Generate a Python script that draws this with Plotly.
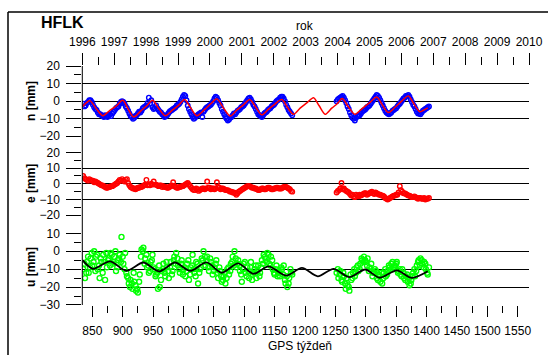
import plotly.graph_objects as go

W, H = 548, 355
def px(x): return x / W
def py(y): return 1 - y / H

# ---------------- data ----------------
station = "HFLK"
year_ticks = list(range(1996, 2011))
week_ticks = list(range(850, 1551, 50))
n_ticks = [-20, -10, 0, 10, 20]
e_ticks = [-20, -10, 0, 10, 20]
u_ticks = [-30, -20, -10, 0, 10]

# north component (blue observations): (start week, step, values)
n_step = 4
n_obs = [
    (835, [-1.5, -2.5, -0.5, 0.5, -2.0, -4.5, -6.5, -7.5, -8.5, -8.0, -9.0, -7.5, -7.0, -5.0,
           -3.5, -1.5, 0.0, -1.5, -4.0, -7.0, -9.0, -9.5, -8.0, -6.0, -5.5, -3.5, -2.5, 2.0,
           0.5, -4.5, -2.5, -5.0, -6.5, -8.0, -8.5, -7.0, -5.5, -4.5, -3.5, -2.0, -0.5, 2.5,
           3.0, -2.5, -6.0, -9.0, -9.5, -8.0, -7.0, -9.0, -5.0, -3.5, -2.5, -1.0, 1.5, 2.0,
           -1.0, -4.5, -7.5, -10.0, -10.5, -9.0, -7.0, -6.5, -5.0, -3.5, -2.5, -0.5, 1.5, 1.0,
           -2.0, -4.5, -7.5, -8.5, -8.0, -6.5, -5.0, -4.0, -2.5, -1.0, 0.5, 2.0, 2.5, 0.0,
           -3.5, -6.0, -8.0]),
    (837, [-3.0, -1.0, 0.5, -0.5, -3.5, -5.0, -7.5, -8.0, -9.0, -8.5, -8.0, -8.5, -6.0, -4.0,
           -3.0, -0.5, -0.5, -3.0, -5.5, -8.5, -10.0, -8.5, -7.0, -6.5, -4.0, -3.0, -1.0, -1.5,
           -3.5, -4.0, -4.0, -6.0, -7.5, -9.0, -8.0, -6.0, -5.0, -4.0, -2.5, -1.5, 1.0, 3.5,
           0.5, -4.5, -7.5, -10.0, -8.5, -7.5, -6.5, -6.0, -4.0, -3.0, -2.0, 0.0, 2.5, 0.5,
           -2.5, -6.0, -9.0, -11.0, -9.5, -8.0, -7.5, -5.5, -4.5, -3.0, -1.5, 0.5, 2.0, -0.5,
           -3.0, -6.0, -8.0, -9.0, -7.0, -6.0, -4.5, -3.0, -2.0, 0.0, 1.0, 2.5, 1.5, -2.0,
           -5.0, -7.0]),
    (1252, [0.0, 1.5, 2.5, 2.0, -1.0, -4.5, -8.0, -10.0, -9.5, -8.5, -7.0, -5.5, -4.5, -3.0,
            -1.5, 0.5, 2.5, 3.0, 0.5, -2.5, -5.5, -7.0, -7.0, -5.5, -4.5, -3.0, -1.5, 0.5,
            2.0, 3.0, 2.5, -0.5, -3.0, -6.0, -7.0, -6.5, -5.0, -4.0, -3.0]),
    (1254, [1.0, 2.0, 3.0, 0.5, -3.0, -6.5, -9.5, -11.0, -8.5, -8.0, -6.0, -5.0, -3.5, -2.5,
            -0.5, 1.5, 3.5, 2.0, -1.0, -4.0, -6.5, -7.5, -6.5, -5.0, -4.0, -2.0, -0.5, 1.5,
            3.0, 3.5, 1.0, -2.0, -4.5, -7.0, -7.5, -5.5, -4.5, -3.5]),
]

# north model (red line)
n_fit_weeks = [834, 840, 846, 856, 867, 878, 890, 900, 909, 918, 930, 940, 949, 959, 970, 982,
               993, 1002, 1012, 1022, 1034, 1045, 1055, 1066, 1077, 1088, 1099, 1109, 1119,
               1129, 1140, 1151, 1162, 1171, 1181, 1192, 1203, 1214, 1223, 1233, 1244, 1253,
               1261, 1271, 1282, 1293, 1306, 1318, 1327, 1337, 1348, 1359, 1370, 1379, 1389,
               1396, 1402]
n_fit_vals = [-3.0, -1.0, 0.3, -4.0, -8.3, -5.5, -2.5, 0.5, -4.5, -9.0, -5.5, -2.5, 0.5, -4.0,
              -8.3, -5.0, -2.0, 1.0, -4.0, -8.3, -5.0, -1.5, 1.3, -4.0, -8.5, -5.0, -2.0, 1.0,
              -3.5, -7.8, -4.5, -1.5, 1.0, -3.5, -7.5, -4.0, -1.0, 2.0, -2.5, -7.5, -4.0, -1.5,
              1.5, -3.0, -7.5, -4.5, -1.0, 2.3, -2.0, -6.5, -3.5, 0.0, 3.0, -1.5, -6.0, -5.0,
              -3.8]

# east component (red observations)
e_step = 4
e_obs = [
    (835, [5.0, 3.0, 2.0, 2.5, 2.0, 1.5, 0.5, -0.5, -1.0, -2.0, -2.5, -2.0, -1.5, -0.5, 0.5,
           2.5, 3.0, 1.5, 3.0, -1.0, -2.5, -3.0, -3.0, -2.5, -2.0, -1.0, 2.5, -0.5, 0.0, 1.5,
           -0.5, -1.5, -1.0, -1.5, -2.0, -2.5, -1.5, 1.0, -2.0, -2.5, -2.0, -1.5, -0.5, 0.5,
           -1.5, -3.5, -4.0, -3.5, -4.0, -3.0, -3.5, 1.5, -2.5, -3.0, -3.5, 1.0, -2.5, -3.0,
           -3.5, -4.0, -4.5, -5.0, -5.5, -7.0, -5.0, -4.0, -3.0, -2.0, -1.5, -2.0, -2.5, -3.0,
           -4.0, -3.5, -3.0, -3.5, -2.5, -3.0, -3.5, -3.0, -2.5, -3.0, -2.5, -2.0, -2.5, -3.5,
           -5.0]),
    (837, [3.5, 2.5, 3.0, 2.0, 1.0, 1.0, 0.0, -1.0, -1.5, -2.5, -2.0, -1.5, -1.0, 0.0, 1.5,
           2.0, 2.0, 2.5, 0.5, -2.0, -3.0, -3.5, -2.5, -2.0, -1.5, -0.5, -1.0, -1.0, -0.5,
           -0.5, -1.0, -1.0, -2.0, -2.0, -2.5, -2.0, -1.0, -1.5, -2.5, -2.0, -1.5, -1.0, 0.0,
           -0.5, -2.5, -4.0, -3.0, -4.5, -3.5, -3.0, -3.0, -2.5, -3.5, -3.0, -3.0, -2.0, -3.5,
           -3.0, -4.0, -4.0, -5.0, -5.5, -6.0, -6.0, -4.5, -3.5, -2.5, -1.5, -1.5, -2.5, -3.0,
           -3.5, -4.0, -3.0, -3.5, -3.0, -2.5, -3.5, -3.0, -2.5, -3.0, -3.0, -2.0, -2.0, -3.0,
           -4.5]),
    (1252, [-5.5, -4.0, 0.5, -3.0, -4.5, -5.5, -7.5, -8.0, -7.0, -8.0, -7.5, -6.5, -6.0, -6.5,
            -5.5, -6.0, -5.5, -6.5, -7.0, -7.5, -9.0, -10.0, -9.0, -8.0, -7.5, -7.0, -1.5,
            -5.0, -6.0, -7.0, -7.5, -8.5, -8.0, -9.0, -9.0, -9.5, -9.0, -9.5, -9.0]),
    (1254, [-4.5, -3.0, -3.5, -4.0, -5.0, -6.5, -7.0, -8.5, -7.5, -7.0, -7.0, -6.0, -7.0, -6.0,
            -5.0, -6.5, -6.0, -7.0, -7.5, -8.0, -9.5, -9.5, -8.5, -7.5, -7.0, -5.5, -4.0,
            -6.0, -6.5, -7.5, -8.0, -8.5, -8.5, -9.5, -9.0, -9.5, -10.0, -9.5]),
]

# up component (green observations)
u_step = 3
u_obs = [
    (835, [-10, -15, -6, -12, -4, -8, 0, -3, -10, -15, -6, -2, -16, -9, -4, -1, -7, -3, -11,
           -5, -2, 8, -7, -1, -14, -18, -16, -21, -17, -22, -23, -13, 1, 2, -4, -9, -12, -6,
           -2, -10, -13, -21, -20, -11, -7, -14, -9, -15, -6, -11, -3, -1, -8, -12, -5, -10,
           -14, -7, -16, -9, -2, -12, -6, -18, -10, -4, 0, -8, -3, -11, -6, -13, -9, -5, -15,
           -11, -17, -14, -18, -10, -13, -7, -3, 0, -9, -5, -11, -17, -7, -12, -9, -15, -6,
           -13, -10, -15, -8, -12, -5, -2, -4, -1, -7, -3, -10, -13, -8, -12, -14, -10, -8,
           -18, -20, -15, -12]),
    (837, [-7, -12, -3, -9, -1, -6, -11, -2, -8, -4, -12, -6, -1, -5, -8, -2, -6, 0, -9, -4,
           -6, -3, -10, -12, -15, -20, -18, -12, -19, -21, -17, -3, 0, -7, -2, -8, -11, -5,
           -9, -14, -12, -8, -16, -10, -12, -6, -11, -9, -13, -5, -7, -4, -10, -7, -13, -9,
           -11, -5, -13, -8, -10, -14, -7, -12, -9, -5, -3, -6, -9, -4, -8, -11, -7, -12, -9,
           -14, -16, -12, -15, -9, -11, -6, -8, -4, -7, -8, -13, -10, -6, -14, -11, -9, -16,
           -12, -8, -11, -14, -9, -7, -3, -6, -2, -8, -5, -12, -10, -14, -11, -9, -13, -16,
           -14, -18, -10, -13]),
    (1252, [-12, -15, -11, -17, -14, -21, -19, -22, -16, -12, -14, -9, -11, -7, -5, -3, -6,
            -4, -9, -7, -12, -10, -15, -13, -17, -18, -12, -14, -11, -9, -7, -10, -8, -6,
            -11, -13, -10, -15, -14, -17, -19, -16, -12, -14, -8, -5, -4, -7, -6, -10, -13]),
    (1254, [-10, -13, -16, -12, -18, -15, -20, -13, -15, -10, -12, -8, -10, -4, -6, -5, -8,
            -11, -10, -14, -12, -11, -16, -14, -12, -15, -10, -13, -8, -10, -6, -9, -7, -12,
            -10, -14, -12, -16, -13, -15, -18, -14, -10, -11, -6, -8, -5, -9, -7, -12, -9]),
]

# up model (black line)
u_fit_weeks = [834, 851, 879, 906, 934, 960, 986, 1011, 1038, 1063, 1090, 1115, 1140, 1169,
               1195, 1221, 1247, 1273, 1299, 1323, 1351, 1376, 1402]
u_fit_vals = [-5.0, -9.8, -5.7, -10.9, -6.3, -11.3, -6.3, -11.0, -6.2, -12.0, -6.8, -12.6, -8.5,
              -13.6, -9.3, -14.0, -9.8, -14.5, -10.2, -14.8, -10.7, -14.9, -11.2]


def epochs(start, step, vals):
    return [start + step * i for i in range(len(vals))]


FONT = "Arial, Liberation Sans, sans-serif"
def mk(c, s):
    return dict(symbol="circle-open", size=s, color=c, line=dict(width=1.4, color=c))

fig = go.Figure()
for s, v in n_obs:
    fig.add_trace(go.Scatter(x=epochs(s, n_step, v), y=v, mode="markers", marker=mk("#0000FF", 4.5),
                             xaxis="x", yaxis="y", showlegend=False))
fig.add_trace(go.Scatter(x=n_fit_weeks, y=n_fit_vals, mode="lines",
                         line=dict(color="#FF0000", width=1.5, shape="spline", smoothing=0.8),
                         xaxis="x", yaxis="y", showlegend=False))
for s, v in e_obs:
    fig.add_trace(go.Scatter(x=epochs(s, e_step, v), y=v, mode="markers", marker=mk("#FF0000", 4.5),
                             xaxis="x", yaxis="y2", showlegend=False))
for s, v in u_obs:
    fig.add_trace(go.Scatter(x=epochs(s, u_step, v), y=v, mode="markers", marker=mk("#00FF00", 5),
                             xaxis="x", yaxis="y3", showlegend=False))
fig.add_trace(go.Scatter(x=u_fit_weeks, y=u_fit_vals, mode="lines",
                         line=dict(color="#000000", width=1.8, shape="spline", smoothing=0.8),
                         xaxis="x", yaxis="y3", showlegend=False))
# dummy trace so the top (year) axis is drawn
fig.add_trace(go.Scatter(x=year_ticks, y=[None] * len(year_ticks), mode="markers",
                         xaxis="x2", yaxis="y", showlegend=False, hoverinfo="skip"))

dom_x = [px(82.3), px(529)]
tickfont = dict(family=FONT, size=12, color="black")

def yax(dom_px, rng, tv):
    return dict(domain=[py(dom_px[1]), py(dom_px[0])], range=[rng[0] - 0.02, rng[1] + 0.02],
                tickvals=tv, ticks="outside", ticklen=15, tickcolor="black", tickwidth=1,
                showgrid=True, gridcolor="black", gridwidth=1, zeroline=False, showline=False,
                tickfont=tickfont, ticklabelstandoff=4, anchor="x", automargin=False,
                minor=dict(dtick=5, tick0=0, ticks="outside", ticklen=7, tickcolor="black",
                           tickwidth=1, showgrid=False))

fig.update_layout(
    template="none",
    width=W, height=H, margin=dict(l=0, r=0, t=0, b=0, pad=0, autoexpand=False),
    paper_bgcolor="white", plot_bgcolor="white", showlegend=False,
    font=dict(family=FONT, size=12, color="black"),
    xaxis=dict(domain=dom_x, range=[833.5, 1568.6], anchor="y3", side="bottom",
               tickvals=week_ticks, ticktext=[str(t) for t in week_ticks], tickangle=0,
               ticks="outside", ticklen=11, tickcolor="black", tickwidth=1,
               showgrid=False, zeroline=False, showline=False, tickfont=tickfont,
               ticklabelstandoff=4, automargin=False,
               minor=dict(dtick=25, tick0=0, ticks="outside", ticklen=7, tickcolor="black",
                          tickwidth=1, showgrid=False)),
    xaxis2=dict(domain=dom_x, range=[1996, 2010], anchor="y", overlaying="x", side="top",
                tickvals=year_ticks, ticktext=[str(t) for t in year_ticks], tickangle=0,
                ticks="outside", ticklen=12, tickcolor="black", tickwidth=1,
                showgrid=False, zeroline=False, showline=False, tickfont=tickfont,
                ticklabelstandoff=2, automargin=False,
                minor=dict(dtick=0.5, tick0=1996, ticks="outside", ticklen=8,
                           tickcolor="black", tickwidth=1, showgrid=False)),
    yaxis=yax((66, 136.3), (-20, 20), n_ticks),
    yaxis2=yax((152.3, 215.3), (-20, 20), e_ticks),
    yaxis3=yax((233.3, 305), (-30, 10), u_ticks),
)

shapes = [
    dict(type="line", xref="paper", yref="paper", x0=px(82.3), x1=px(82.3), y0=py(66), y1=py(305),
         line=dict(color="black", width=1)),
    dict(type="line", xref="paper", yref="paper", x0=px(8), x1=1, y0=py(12), y1=py(12),
         line=dict(color="black", width=1.5)),
    dict(type="line", xref="paper", yref="paper", x0=px(8), x1=px(8), y0=py(12), y1=0,
         line=dict(color="black", width=1.5)),
]
fig.update_layout(shapes=shapes)

ann = [
    dict(text="<b>" + station + "</b>", x=px(62), y=py(22), size=16, angle=0),
    dict(text="rok", x=px(305), y=py(26), size=12, angle=0),
    dict(text="GPS týždeň", x=px(300), y=py(346), size=12, angle=0),
    dict(text="<b>n [mm]</b>", x=px(31), y=py(101), size=12, angle=-90),
    dict(text="<b>e [mm]</b>", x=px(31), y=py(184), size=12, angle=-90),
    dict(text="<b>u [mm]</b>", x=px(31), y=py(267), size=12, angle=-90),
]
for a in ann:
    fig.add_annotation(text=a["text"], x=a["x"], y=a["y"], xref="paper", yref="paper",
                       xanchor="center", yanchor="middle", showarrow=False, textangle=a["angle"],
                       font=dict(family=FONT, size=a["size"], color="black"))

fig.write_html("out.html")
